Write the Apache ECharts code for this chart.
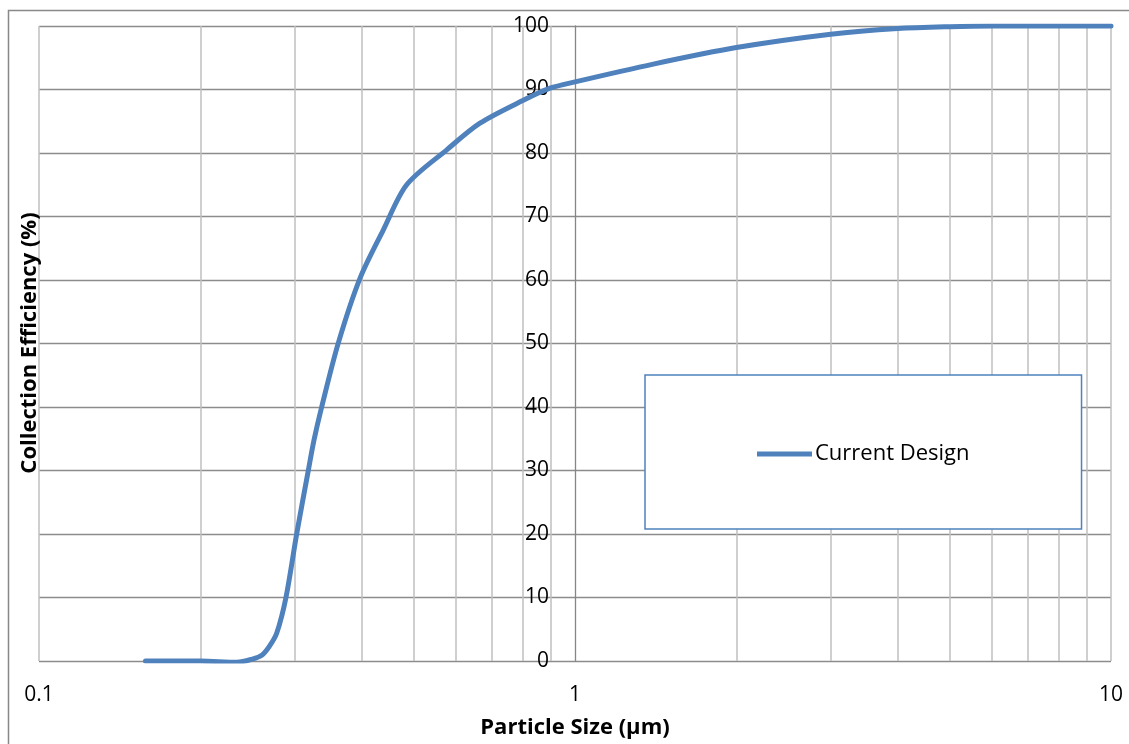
<!DOCTYPE html>
<html>
<head>
<meta charset="utf-8">
<script src="https://cdn.jsdelivr.net/npm/echarts@6/dist/echarts.min.js"></script>
<style>
html,body{margin:0;padding:0;background:#fff;}
#chart{width:1129px;height:744px;}
</style>
</head>
<body>
<div id="chart"></div>
<script>
// Data
const particleSize = [0.158, 0.2, 0.234, 0.25, 0.2604, 0.269, 0.2777, 0.2889, 0.3025, 0.318, 0.3259, 0.3368, 0.3618, 0.3972, 0.439, 0.4853, 0.5764, 0.6648, 0.8008, 0.898, 1.0, 1.4, 2, 3, 4, 5, 6, 8, 10];
const efficiency   = [0,     0,   -0.2,  0.3,  0.9,    2.3,   4.4,    10,     20,     30,    34.8,   40,     50.1,   60.3,   67.9,  75,     80.5,   84.7,   88.3,   90.2,  91.2, 94.0, 96.6, 98.7, 99.6, 99.9, 100, 100, 100];
const seriesName = 'Current Design';
const xTickLabels = ['0.1', '1', '10'];
const yTicks = [0, 10, 20, 30, 40, 50, 60, 70, 80, 90, 100];
const minorGridX = [0.1, 0.2, 0.3, 0.4, 0.5, 0.6, 0.7, 0.8, 0.9, 2, 3, 4, 5, 6, 7, 8, 9, 10];
const xTitle = 'Particle Size (µm)';
const yTitle = 'Collection Efficiency (%)';

const FONT = 'Open Sans';
const chart = echarts.init(document.getElementById('chart'), null, {renderer: 'canvas'});
const plotLeft = 39, plotRight = 18, plotTop = 26, plotBottom = 83;
const plotW = 1129 - plotLeft - plotRight;

chart.setOption({
  animation: false,
  backgroundColor: '#fff',
  grid: {left: plotLeft, right: plotRight, top: plotTop, bottom: plotBottom, containLabel: false},
  xAxis: {
    type: 'log', logBase: 10, min: 0.1, max: 10,
    axisLine: {show: false},
    axisTick: {show: false},
    splitLine: {show: false},
    axisLabel: {
      margin: 24, fontFamily: FONT, fontSize: 21, color: '#000',
      formatter: function (v) {
        const s = String(+v.toPrecision(3));
        return xTickLabels.indexOf(s) >= 0 ? s : '';
      }
    },
    name: xTitle, nameLocation: 'middle', nameGap: 56,
    nameTextStyle: {fontFamily: FONT, fontSize: 22, fontWeight: 'bold', color: '#000'}
  },
  yAxis: {
    type: 'value', min: yTicks[0], max: yTicks[yTicks.length - 1], interval: 10,
    position: 'left',
    offset: -(plotW / 2),
    axisLine: {show: true, lineStyle: {color: '#868686', width: 1.3}},
    axisTick: {show: false},
    splitLine: {show: true, lineStyle: {color: '#8c8c8c', width: 1.3}},
    axisLabel: {margin: 26, fontFamily: FONT, fontSize: 21, color: '#000'}
  },
  legend: {
    show: true,
    left: 645, top: 375,
    orient: 'horizontal',
    backgroundColor: '#fff',
    borderColor: '#4f81bd', borderWidth: 1.5, borderRadius: 0,
    padding: [68, 112, 64, 112],
    itemWidth: 55, itemHeight: 14, itemGap: 0,
    textStyle: {fontFamily: FONT, fontSize: 22, color: '#000', padding: [0, 0, 0, -2]},
    data: [{name: seriesName, icon: 'path://M0,0 L55,0 L55,5 L0,5 Z'}]
  },
  graphic: [
    {type: 'rect', left: 6, top: 8, shape: {x: 0, y: 0, width: 1200, height: 800}, style: {fill: 'none', stroke: '#898989', lineWidth: 1.5}, silent: true, z: 100},
    {type: 'text', x: 30, y: 343, rotation: Math.PI / 2,
     style: {text: yTitle, fontFamily: FONT, fontSize: 22, fontWeight: 'bold', fill: '#000', align: 'center', verticalAlign: 'middle'}, z: 100}
  ],
  series: [{
    name: seriesName,
    type: 'line',
    data: particleSize.map((x, i) => [x, efficiency[i]]),
    smooth: 0.3,
    symbol: 'none',
    lineStyle: {color: '#4f81bd', width: 5, cap: 'round', join: 'round'},
    itemStyle: {color: '#4f81bd'},
    z: 3,
    markLine: {
      silent: true, symbol: 'none', label: {show: false},
      lineStyle: {color: '#bfbfbf', width: 1.5, type: 'solid'},
      z: 1,
      data: minorGridX.map(v => ({xAxis: v}))
    }
  }]
});
</script>
</body>
</html>
